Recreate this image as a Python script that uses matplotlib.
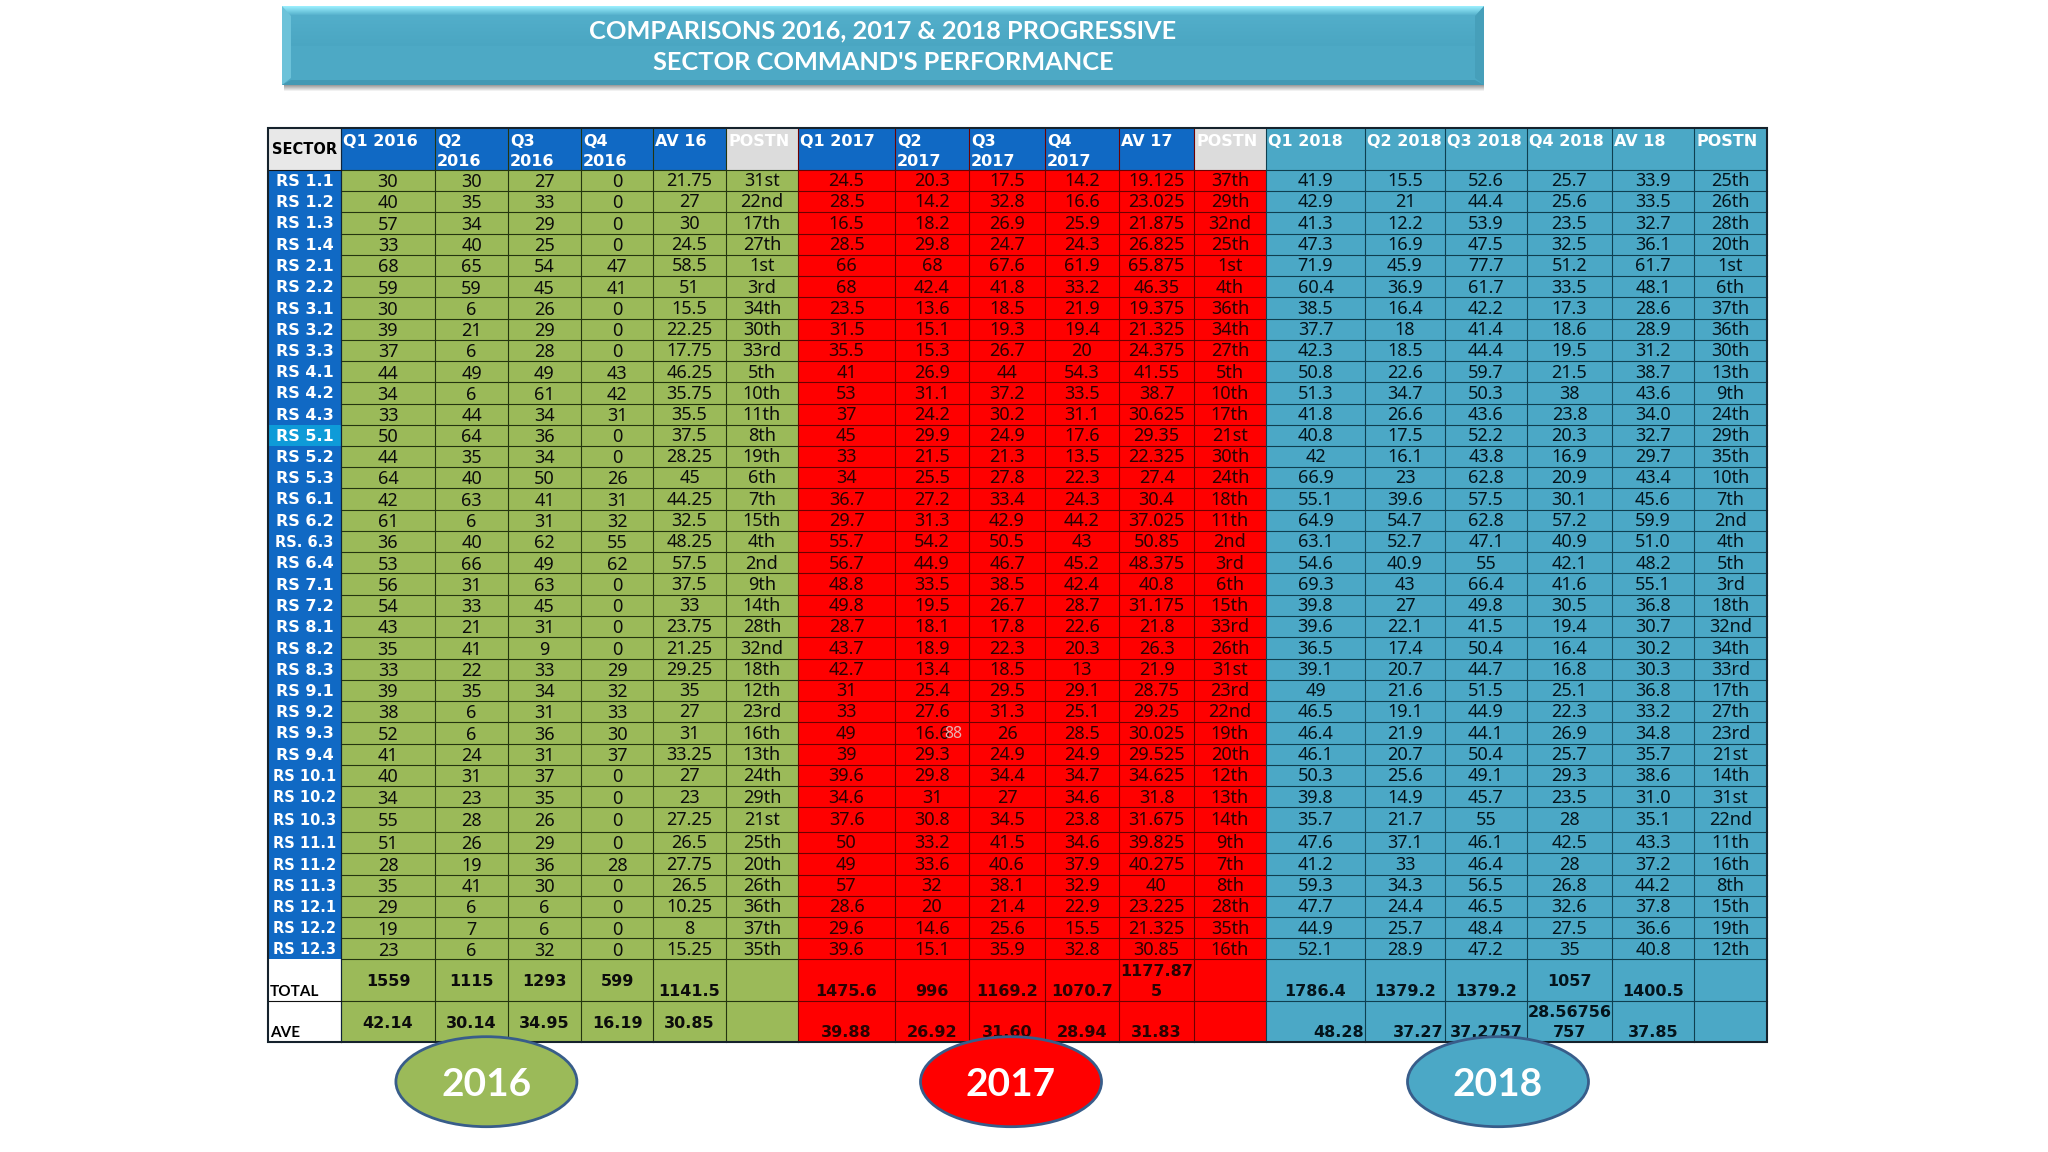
import numpy as np
import matplotlib
matplotlib.use('Agg')
import matplotlib.pyplot as plt
from matplotlib.patches import Rectangle, Ellipse, Polygon

# table contents
sectors = ['RS 1.1','RS 1.2','RS 1.3','RS 1.4','RS 2.1','RS 2.2','RS 3.1','RS 3.2','RS 3.3','RS 4.1','RS 4.2','RS 4.3','RS 5.1',
           'RS 5.2','RS 5.3','RS 6.1','RS 6.2','RS. 6.3','RS 6.4','RS 7.1','RS 7.2','RS 8.1','RS 8.2','RS 8.3','RS 9.1','RS 9.2',
           'RS 9.3','RS 9.4','RS 10.1','RS 10.2','RS 10.3','RS 11.1','RS 11.2','RS 11.3','RS 12.1','RS 12.2','RS 12.3']

q1_2016 = '30 40 57 33 68 59 30 39 37 44 34 33 50 44 64 42 61 36 53 56 54 43 35 33 39 38 52 41 40 34 55 51 28 35 29 19 23'.split()
q2_2016 = '30 35 34 40 65 59 6 21 6 49 6 44 64 35 40 63 6 40 66 31 33 21 41 22 35 6 6 24 31 23 28 26 19 41 6 7 6'.split()
q3_2016 = '27 33 29 25 54 45 26 29 28 49 61 34 36 34 50 41 31 62 49 63 45 31 9 33 34 31 36 31 37 35 26 29 36 30 6 6 32'.split()
q4_2016 = '0 0 0 0 47 41 0 0 0 43 42 31 0 0 26 31 32 55 62 0 0 0 0 29 32 33 30 37 0 0 0 0 28 0 0 0 0'.split()
av_2016 = '21.75 27 30 24.5 58.5 51 15.5 22.25 17.75 46.25 35.75 35.5 37.5 28.25 45 44.25 32.5 48.25 57.5 37.5 33 23.75 21.25 29.25 35 27 31 33.25 27 23 27.25 26.5 27.75 26.5 10.25 8 15.25'.split()
pos_2016 = '31st 22nd 17th 27th 1st 3rd 34th 30th 33rd 5th 10th 11th 8th 19th 6th 7th 15th 4th 2nd 9th 14th 28th 32nd 18th 12th 23rd 16th 13th 24th 29th 21st 25th 20th 26th 36th 37th 35th'.split()

q1_2017 = '24.5 28.5 16.5 28.5 66 68 23.5 31.5 35.5 41 53 37 45 33 34 36.7 29.7 55.7 56.7 48.8 49.8 28.7 43.7 42.7 31 33 49 39 39.6 34.6 37.6 50 49 57 28.6 29.6 39.6'.split()
q2_2017 = '20.3 14.2 18.2 29.8 68 42.4 13.6 15.1 15.3 26.9 31.1 24.2 29.9 21.5 25.5 27.2 31.3 54.2 44.9 33.5 19.5 18.1 18.9 13.4 25.4 27.6 16.6 29.3 29.8 31 30.8 33.2 33.6 32 20 14.6 15.1'.split()
q3_2017 = '17.5 32.8 26.9 24.7 67.6 41.8 18.5 19.3 26.7 44 37.2 30.2 24.9 21.3 27.8 33.4 42.9 50.5 46.7 38.5 26.7 17.8 22.3 18.5 29.5 31.3 26 24.9 34.4 27 34.5 41.5 40.6 38.1 21.4 25.6 35.9'.split()
q4_2017 = '14.2 16.6 25.9 24.3 61.9 33.2 21.9 19.4 20 54.3 33.5 31.1 17.6 13.5 22.3 24.3 44.2 43 45.2 42.4 28.7 22.6 20.3 13 29.1 25.1 28.5 24.9 34.7 34.6 23.8 34.6 37.9 32.9 22.9 15.5 32.8'.split()
av_2017 = '19.125 23.025 21.875 26.825 65.875 46.35 19.375 21.325 24.375 41.55 38.7 30.625 29.35 22.325 27.4 30.4 37.025 50.85 48.375 40.8 31.175 21.8 26.3 21.9 28.75 29.25 30.025 29.525 34.625 31.8 31.675 39.825 40.275 40 23.225 21.325 30.85'.split()
pos_2017 = '37th 29th 32nd 25th 1st 4th 36th 34th 27th 5th 10th 17th 21st 30th 24th 18th 11th 2nd 3rd 6th 15th 33rd 26th 31st 23rd 22nd 19th 20th 12th 13th 14th 9th 7th 8th 28th 35th 16th'.split()

q1_2018 = '41.9 42.9 41.3 47.3 71.9 60.4 38.5 37.7 42.3 50.8 51.3 41.8 40.8 42 66.9 55.1 64.9 63.1 54.6 69.3 39.8 39.6 36.5 39.1 49 46.5 46.4 46.1 50.3 39.8 35.7 47.6 41.2 59.3 47.7 44.9 52.1'.split()
q2_2018 = '15.5 21 12.2 16.9 45.9 36.9 16.4 18 18.5 22.6 34.7 26.6 17.5 16.1 23 39.6 54.7 52.7 40.9 43 27 22.1 17.4 20.7 21.6 19.1 21.9 20.7 25.6 14.9 21.7 37.1 33 34.3 24.4 25.7 28.9'.split()
q3_2018 = '52.6 44.4 53.9 47.5 77.7 61.7 42.2 41.4 44.4 59.7 50.3 43.6 52.2 43.8 62.8 57.5 62.8 47.1 55 66.4 49.8 41.5 50.4 44.7 51.5 44.9 44.1 50.4 49.1 45.7 55 46.1 46.4 56.5 46.5 48.4 47.2'.split()
q4_2018 = '25.7 25.6 23.5 32.5 51.2 33.5 17.3 18.6 19.5 21.5 38 23.8 20.3 16.9 20.9 30.1 57.2 40.9 42.1 41.6 30.5 19.4 16.4 16.8 25.1 22.3 26.9 25.7 29.3 23.5 28 42.5 28 26.8 32.6 27.5 35'.split()
av_2018 = '33.9 33.5 32.7 36.1 61.7 48.1 28.6 28.9 31.2 38.7 43.6 34.0 32.7 29.7 43.4 45.6 59.9 51.0 48.2 55.1 36.8 30.7 30.2 30.3 36.8 33.2 34.8 35.7 38.6 31.0 35.1 43.3 37.2 44.2 37.8 36.6 40.8'.split()
pos_2018 = '25th 26th 28th 20th 1st 6th 37th 36th 30th 13th 9th 24th 29th 35th 10th 7th 2nd 4th 5th 3rd 18th 32nd 34th 33rd 17th 27th 23rd 21st 14th 31st 22nd 11th 16th 8th 15th 19th 12th'.split()

total_row = ['1559','1115','1293','599','1141.5','', '1475.6','996','1169.2','1070.7','1177.87\n5','', '1786.4','1379.2','1379.2','1057','1400.5','']
ave_row = ['42.14','30.14','34.95','16.19','30.85','', '39.88','26.92','31.60','28.94','31.83','', '48.28','37.27','37.2757','28.56756\n757','37.85','']

headers = ['Q1 2016','Q2\n2016','Q3\n2016','Q4\n2016','AV 16','POSTN',
           'Q1 2017','Q2\n2017','Q3\n2017','Q4\n2017','AV 17','POSTN',
           'Q1 2018','Q2 2018','Q3 2018','Q4 2018','AV 18','POSTN']
years = ['2016','2017','2018']

columns = [q1_2016,q2_2016,q3_2016,q4_2016,av_2016,pos_2016,
           q1_2017,q2_2017,q3_2017,q4_2017,av_2017,pos_2017,
           q1_2018,q2_2018,q3_2018,q4_2018,av_2018,pos_2018]

# layout in pixels of the 2048x1152 slide
col_x = [268,341,435,508,581,653,726,798,895,969,1045,1119,1194,1266,1365,1445,1527,1612,1694,1767]
row_y = [128,170,191,212.3,233.7,255,276.3,297.3,318.7,340,361.3,382.3,403.7,425,446,467,488.3,509.7,531,552.3,573.3,594.7,
         616,637.3,658.7,680,701,722.3,743.7,765,786.3,807.3,832,853.3,874.7,896,917.3,938.3,959.3,1001.3,1042.3]

GREEN = '#9BBA59'
RED = '#FF0000'
TEAL = '#4BA8C6'
BLUE = '#1069C4'
BRIGHT_BLUE = '#0E9BD8'
LIGHT_GREY = '#DCDCDC'
block_fill = [GREEN]*6 + [RED]*6 + [TEAL]*6
block_line = ['#24350f']*6 + ['#6e0000']*6 + ['#0f3f50']*6
block_text = ['#0c0c0c']*6 + ['#2a0202']*6 + ['#04141c']*6

plt.rcParams['font.family'] = ['Noto Sans', 'DejaVu Sans']
BOLD = 'DejaVu Sans'    # Noto Sans comes out regular here

fig = plt.figure(figsize=(20.48,11.52), dpi=100, facecolor='white')
ax = fig.add_axes([0,0,1,1])
ax.set_xlim(0,2048)
ax.set_ylim(1152,0)
ax.axis('off')


def box(x0,y0,x1,y1,color,z=1):
    ax.add_patch(Rectangle((x0,y0),x1-x0,y1-y0,facecolor=color,edgecolor='none',zorder=z))


def bold(x,y,s,color,size=11.5,ha='center'):
    ax.text(x,y,s,color=color,fontsize=size,fontweight='bold',family=BOLD,ha=ha,va='center',zorder=6)


# title banner
for i in range(6):
    box(284,85+i,1484,86+i,str(0.62+0.065*i),z=1)
box(282,6,1484,85,'#4DA9C5',z=2)
top = np.array([0.60,0.93,0.99])
body = np.array([0.32,0.68,0.79])
for i in range(10):
    box(282,6+i,1484,7+i,tuple(top+(body-top)*i/9.0),z=3)
for i in range(30):
    box(282,16+i,1484,17+i,tuple(body+(np.array([0.29,0.65,0.76])-body)*i/29.0),z=3)
ax.add_patch(Polygon([[282,6],[291,16],[291,78],[282,85]],facecolor='#6CC2D9',edgecolor='none',zorder=4))
ax.add_patch(Polygon([[1484,6],[1475,16],[1475,78],[1484,85]],facecolor='#469FBA',edgecolor='none',zorder=4))
ax.add_patch(Polygon([[282,85],[291,80],[1475,80],[1484,85]],facecolor='#4398B3',edgecolor='none',zorder=4))
ax.text(883,31,'COMPARISONS 2016, 2017 & 2018 PROGRESSIVE',color='white',fontsize=18.3,fontweight='bold',
        family='Lato',ha='center',va='center',zorder=5)
ax.text(883,62,"SECTOR COMMAND'S PERFORMANCE",color='white',fontsize=18.3,fontweight='bold',
        family='Lato',ha='center',va='center',zorder=5)

# cell fills
for j in range(18):
    x0,x1 = col_x[j+1],col_x[j+2]
    box(x0,row_y[1],x1,row_y[-1],block_fill[j])
    head = TEAL if j>=12 else (LIGHT_GREY if j in (5,11) else BLUE)
    box(x0,row_y[0],x1,row_y[1],head)
    lines = headers[j].split('\n')
    bold(x0+2,141.7,lines[0],'white',ha='left')
    if len(lines)==2:
        bold(x0+2,161.7,lines[1],'white',ha='left')

box(col_x[0],row_y[0],col_x[1],row_y[1],'#E8E8E8')
bold(304.6,150,'SECTOR','black',size=10.5)

# sector names
for i in range(len(sectors)):
    fill = BRIGHT_BLUE if sectors[i]=='RS 5.1' else BLUE
    box(col_x[0],row_y[i+1],col_x[1],row_y[i+2],fill)
    size = 10.5 if len(sectors[i])>6 else 11.5
    bold(304.6,(row_y[i+1]+row_y[i+2])/2.0+1,sectors[i],'white',size=size)

# values
for j in range(18):
    xc = (col_x[j+1]+col_x[j+2])/2.0
    dy = 1 if j<4 else 0
    for i in range(len(sectors)):
        yc = (row_y[i+1]+row_y[i+2])/2.0 + dy + 0.8
        ax.text(xc,yc,columns[j][i],color=block_text[j],fontsize=13,ha='center',va='center',zorder=6)

# the stray label over one of the 2017 cells
ax.text(953,734,'88',color='#E8B0B0',fontsize=11.5,ha='center',va='center',zorder=7)

# total and average rows
box(col_x[0],row_y[-3],col_x[1],row_y[-1],'white')
ax.text(270,992,'TOTAL',color='black',fontsize=11,fontweight='bold',family='Lato',ha='left',va='center',zorder=6)
ax.text(270,1033,'AVE',color='black',fontsize=11,fontweight='bold',family='Lato',ha='left',va='center',zorder=6)

total_mid = [0,1,2,3,15]
ave_mid = [0,1,2,3,4]
ave_right = [12,13]
for j in range(18):
    xc = (col_x[j+1]+col_x[j+2])/2.0
    lines = total_row[j].split('\n')
    for k in range(len(lines)):
        y = 982 if j in total_mid else 991.5 - 20.3*(len(lines)-1-k)
        bold(xc,y,lines[k],block_text[j])
    lines = ave_row[j].split('\n')
    for k in range(len(lines)):
        y = 1023.5 if j in ave_mid else 1032.5 - 20.3*(len(lines)-1-k)
        if j in ave_right:
            bold(col_x[j+2]-1,y,lines[k],block_text[j],ha='right')
        else:
            bold(xc,y,lines[k],block_text[j])

# grid
for j in range(18):
    ax.plot([col_x[j+1],col_x[j+1]],[row_y[0],row_y[-1]],color=block_line[j],lw=0.8,zorder=4)
    for y in row_y[1:-1]:
        ax.plot([col_x[j+1],col_x[j+2]],[y,y],color=block_line[j],lw=0.8,zorder=4)
ax.plot([col_x[1],col_x[1]],[row_y[0],row_y[-1]],color='#10243a',lw=0.8,zorder=4)
ax.plot([col_x[0],col_x[1]],[row_y[1],row_y[1]],color='#111111',lw=0.8,zorder=4)
ax.plot([col_x[0],col_x[1]],[row_y[-2],row_y[-2]],color='#111111',lw=0.8,zorder=4)
ax.add_patch(Rectangle((col_x[0],row_y[0]),col_x[-1]-col_x[0],row_y[-1]-row_y[0],facecolor='none',
                       edgecolor='#15222c',lw=1.5,zorder=5))

# year ovals
oval_x = [486.4,1011,1498]
oval_fill = [GREEN,RED,TEAL]
for i in range(3):
    ax.add_patch(Ellipse((oval_x[i],1081.7),181,90,facecolor=oval_fill[i],edgecolor='#385D8A',lw=2,zorder=8))
    ax.text(oval_x[i],1085,years[i],color='white',fontsize=28,fontweight='bold',family='Lato',
            ha='center',va='center',zorder=9)

fig.savefig('out.png',dpi=100)
